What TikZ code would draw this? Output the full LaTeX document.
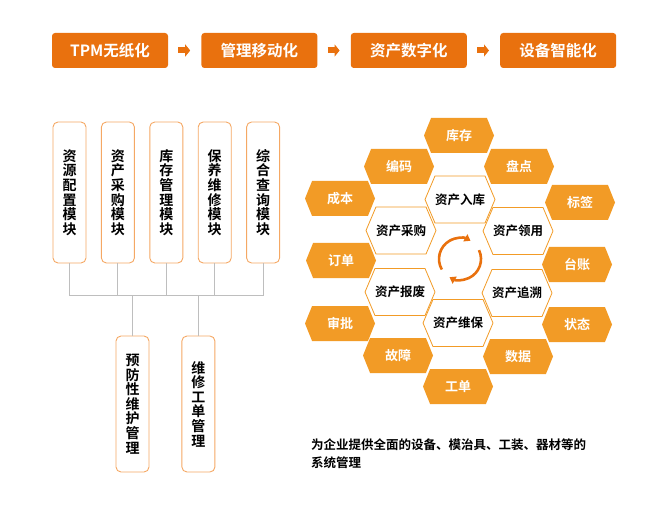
\documentclass[tikz,border=0pt]{standalone}
\usepackage{fontspec}
\setmainfont{Noto Sans CJK SC}[BoldFont=* Bold]
\definecolor{DeepOrange}{RGB}{233,113,14}
\definecolor{HexOrange}{RGB}{242,155,38}
\definecolor{EdgeOrange}{RGB}{245,168,100}
\definecolor{BusGray}{RGB}{190,190,190}
\usetikzlibrary{arrows.meta,positioning,shapes.symbols}

\begin{document}
\begin{tikzpicture}[
    x=1pt, y=-1pt, node distance=33pt,
    stage/.style={fill=DeepOrange, rounded corners=3pt, minimum width=116pt,
                  minimum height=35pt, inner sep=0pt, text=white,
                  font=\bfseries\fontsize{15.5}{16}\selectfont},
    go/.style={DeepOrange, line width=6pt, shorten <=10pt, shorten >=11pt,
               -{Triangle[length=5pt,width=12pt]}},
    modbox/.style={draw=EdgeOrange, line width=0.9pt, rounded corners=5pt, fill=white,
                   minimum width=33pt, inner sep=0pt, align=center,
                   font=\bfseries\fontsize{14}{14.6}\selectfont},
    link/.style={BusGray, line width=1pt},
    hexa/.style={signal, signal to=east and west, signal pointer angle=136,
                 fill=HexOrange, minimum width=70pt, minimum height=35pt, inner sep=0pt,
                 text=white, font=\bfseries\fontsize{13}{13}\selectfont},
    hexw/.style={signal, signal to=east and west, signal pointer angle=134,
                 draw=HexOrange, line width=0.8pt, fill=white, minimum width=70pt,
                 minimum height=47pt, inner sep=0pt,
                 font=\bfseries\fontsize{12.5}{13}\selectfont},
    spin/.style={DeepOrange, line width=2.6pt, -{Triangle[length=6pt,width=8pt]}},
    note/.style={align=left, inner sep=0pt, font=\bfseries\fontsize{12.5}{18}\selectfont}
  ]
  \useasboundingbox (0,0) rectangle (668,518);

  % stages along the top
  \node[stage] (s1) at (110,50.5) {TPM无纸化};
  \node[stage, right=of s1] (s2) {管理移动化};
  \node[stage, right=of s2] (s3) {资产数字化};
  \node[stage, right=of s3] (s4) {设备智能化};
  \draw[go] (s1) -- (s2);
  \draw[go] (s2) -- (s3);
  \draw[go] (s3) -- (s4);

  % module tree
  \node[modbox, minimum height=141pt] (m1) at (69.5,192.5) {资\\源\\配\\置\\模\\块};
  \node[modbox, minimum height=141pt, right=14.5pt of m1] (m2) {资\\产\\采\\购\\模\\块};
  \node[modbox, minimum height=141pt, right=14.5pt of m2] (m3) {库\\存\\管\\理\\模\\块};
  \node[modbox, minimum height=141pt, right=14.5pt of m3] (m4) {保\\养\\维\\修\\模\\块};
  \node[modbox, minimum height=141pt, right=14.5pt of m4] (m5) {综\\合\\查\\询\\模\\块};
  \node[modbox, minimum height=136pt] (p1) at (132.5,404) {预\\防\\性\\维\\护\\管\\理};
  \node[modbox, minimum height=136pt, right=32pt of p1] (p2) {维\\修\\工\\单\\管\\理};
  \coordinate (bus) at (0,295);
  \draw[link] (m1) -- (m1 |- bus) -- (m5 |- bus) -- (m5);
  \draw[link] (m2) -- (m2 |- bus);
  \draw[link] (m3) -- (m3 |- bus);
  \draw[link] (m4) -- (m4 |- bus);
  \draw[link] (p1) -- (p1 |- bus);
  \draw[link] (p2) -- (p2 |- bus);

  % honeycomb
  \node[hexa] (kucun)  at (459,135.5) {库存};
  \node[hexa] (bianma) at (399,166.5) {编码};
  \node[hexa] (pandian) at (519,166.5) {盘点};
  \node[hexa] (chengben) at (340,198.5) {成本};
  \node[hexa] (biaoqian) at (580,202.5) {标签};
  \node[hexa] (dingdan) at (341,260.5) {订单};
  \node[hexa] (taizhang) at (577,264.5) {台账};
  \node[hexa] (shenpi) at (340,323.5) {审批};
  \node[hexa] (zhuangtai) at (577,324.5) {状态};
  \node[hexa] (guzhang) at (398,355.5) {故障};
  \node[hexa] (shuju)  at (518,356.5) {数据};
  \node[hexa] (gongdan) at (458,386.5) {工单};
  \node[hexw] (ruku)   at (460,199.5) {资产入库};
  \node[hexw] (caigou) at (401,230.5) {资产采购};
  \node[hexw] (lingyong) at (518,231) {资产领用};
  \node[hexw] (baofei) at (400,292) {资产报废};
  \node[hexw] (zhuisu) at (517,293) {资产追溯};
  \node[hexw] (weibao) at (458,323) {资产维保};
  \coordinate (ring) at (460,259);
  \draw[spin] (ring) ++(150:21) arc[start angle=150, end angle=300, radius=21];
  \draw[spin] (ring) ++(-25:21) arc[start angle=-25, end angle=120, radius=21];

  \node[note, anchor=west] (goal) at (311,454)
    {为企业提供全面的设备、模治具、工装、器材等的\\系统管理};
\end{tikzpicture}
\end{document}
